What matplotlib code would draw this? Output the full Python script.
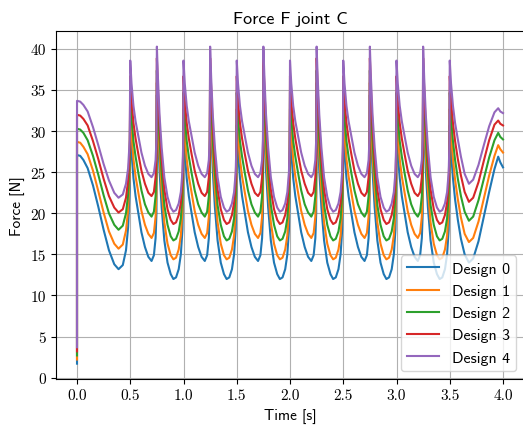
import numpy as np
import matplotlib
matplotlib.use("Agg")
import matplotlib.pyplot as plt

# --- Data (force in N) --- #
designs = ['Design 0', 'Design 1', 'Design 2', 'Design 3', 'Design 4']
colors = ['tab:blue', 'tab:orange', 'tab:green', 'tab:red', 'tab:purple']

# first stretch, 0 .. 0.5 s (two samples at t=0: solver start and jump)
start_times = [0.0, 0.0, 0.03, 0.06, 0.1, 0.15, 0.2, 0.25, 0.3, 0.35, 0.39, 0.43, 0.46, 0.48, 0.495]
start_values = [
    [1.7, 27.1, 27.0, 26.5, 25.5, 23.4, 20.8, 18.0, 15.5, 13.8, 13.2, 13.7, 15.5, 18.3, 23.0],
    [2.2, 28.7, 28.6, 28.1, 27.2, 25.2, 22.7, 20.1, 17.8, 16.3, 15.7, 16.2, 17.9, 20.4, 24.7],
    [2.7, 30.3, 30.2, 29.8, 28.9, 27.0, 24.7, 22.2, 20.0, 18.6, 18.0, 18.5, 20.0, 22.3, 26.3],
    [3.2, 32.0, 31.9, 31.5, 30.7, 28.8, 26.6, 24.2, 22.1, 20.7, 20.1, 20.5, 21.9, 24.0, 27.8],
    [3.7, 33.7, 33.6, 33.2, 32.4, 30.5, 28.3, 26.0, 24.0, 22.5, 21.9, 22.3, 23.6, 25.5, 29.0],
]

# impact times: lower peaks at 0.5, 1.0, ... and higher peaks at 0.75, 1.25, ...
low_peak_times = [0.5, 1.0, 1.5, 2.0, 2.5, 3.0]
high_peak_times = [0.75, 1.25, 1.75, 2.25, 2.75, 3.25]

# shape after a lower peak (time since the peak)
low_offsets = [0.0, 0.012, 0.03, 0.05, 0.076, 0.105, 0.138, 0.17, 0.2, 0.222, 0.238, 0.246]
low_values = [
    [30.7, 27.4, 24.3, 22.1, 20.0, 17.7, 15.9, 14.7, 14.2, 14.9, 17.0, 20.0],
    [32.7, 29.6, 26.6, 24.5, 22.5, 20.3, 18.6, 17.5, 17.0, 17.6, 19.6, 22.5],
    [34.7, 31.7, 28.8, 26.9, 24.9, 22.8, 21.1, 20.1, 19.6, 20.2, 22.1, 24.8],
    [36.7, 33.8, 31.0, 29.1, 27.2, 25.2, 23.6, 22.5, 22.1, 22.6, 24.4, 27.0],
    [38.6, 35.8, 33.1, 31.2, 29.4, 27.4, 25.8, 24.8, 24.4, 24.9, 26.5, 29.0],
]

# shape after a higher peak
high_offsets = [0.0, 0.01, 0.025, 0.045, 0.07, 0.1, 0.13, 0.155, 0.18, 0.205, 0.225, 0.24, 0.247]
high_values = [
    [34.4, 30.1, 25.2, 20.7, 16.7, 14.0, 12.6, 12.0, 12.2, 13.2, 15.0, 18.0, 22.5],
    [35.9, 31.8, 27.1, 22.8, 18.9, 16.3, 14.9, 14.4, 14.6, 15.6, 17.3, 20.2, 24.5],
    [37.4, 33.5, 28.9, 24.8, 21.0, 18.6, 17.2, 16.7, 16.9, 17.8, 19.4, 22.2, 26.2],
    [38.9, 35.1, 30.6, 26.6, 22.9, 20.5, 19.2, 18.7, 18.9, 19.8, 21.3, 23.9, 27.6],
    [40.3, 36.5, 32.0, 28.0, 24.4, 22.0, 20.7, 20.2, 20.4, 21.2, 22.6, 25.0, 28.5],
]

# last stretch, 3.5 .. 4.0 s
end_times = [3.5, 3.512, 3.53, 3.55, 3.576, 3.605, 3.64, 3.68, 3.72, 3.77, 3.82, 3.87, 3.92, 3.955, 3.975, 4.0]
end_values = [
    [30.7, 27.4, 24.3, 21.7, 19.2, 16.9, 15.0, 14.0, 14.5, 16.6, 19.6, 22.6, 25.4, 26.9, 26.2, 25.6],
    [32.7, 29.6, 26.6, 24.1, 21.7, 19.5, 17.5, 16.5, 17.0, 19.0, 21.8, 24.6, 27.0, 28.3, 27.8, 27.4],
    [34.7, 31.7, 28.8, 26.5, 24.2, 22.1, 20.2, 19.1, 19.6, 21.6, 24.2, 26.8, 28.9, 29.8, 29.3, 29.0],
    [36.7, 33.8, 31.0, 28.8, 26.6, 24.6, 22.6, 21.4, 21.9, 23.8, 26.4, 28.9, 30.8, 31.3, 30.9, 30.7],
    [38.6, 35.8, 33.1, 31.0, 29.0, 26.9, 24.8, 23.6, 24.1, 25.9, 28.3, 30.6, 32.3, 32.8, 32.4, 32.2],
]


def build_series(i_design):
    t = list(start_times)
    f = list(start_values[i_design])
    for t_low, t_high in zip(low_peak_times, high_peak_times):
        t += [t_low + dt for dt in low_offsets]
        f += low_values[i_design]
        t += [t_high + dt for dt in high_offsets]
        f += high_values[i_design]
    t += end_times
    f += end_values[i_design]
    return np.array(t), np.array(f)


# --- Plot --- #
plt.rcParams['font.family'] = 'cmss10'
plt.rcParams['axes.unicode_minus'] = False

fig = plt.figure(figsize=(5.23, 4.27), dpi=100)
ax = fig.add_axes([55.7 / 523, 47 / 427, 468.6 / 523, 348 / 427])

for i_design, name in enumerate(designs):
    t, f = build_series(i_design)
    ax.plot(t, f, color=colors[i_design], linewidth=1.5, label=name)

ax.set_xlim(-0.2, 4.2)
ax.set_ylim(-0.17, 42.2)
xt = np.arange(0, 4.01, 0.5)
yt = np.arange(0, 41, 5)
ax.set_xticks(xt)
ax.set_yticks(yt)
ax.set_xticklabels(['%.1f' % v for v in xt], fontfamily='cmr10', fontsize=11)
ax.set_yticklabels(['%d' % v for v in yt], fontfamily='cmr10', fontsize=11)
ax.grid(True)

ax.set_title('Force F joint C', fontsize=13)
ax.set_xlabel('Time [s]', fontsize=11)
ax.set_ylabel('Force [N]', fontsize=11)
ax.legend(loc='lower right', fontsize=11.5)

fig.savefig('out.png', dpi=100)
